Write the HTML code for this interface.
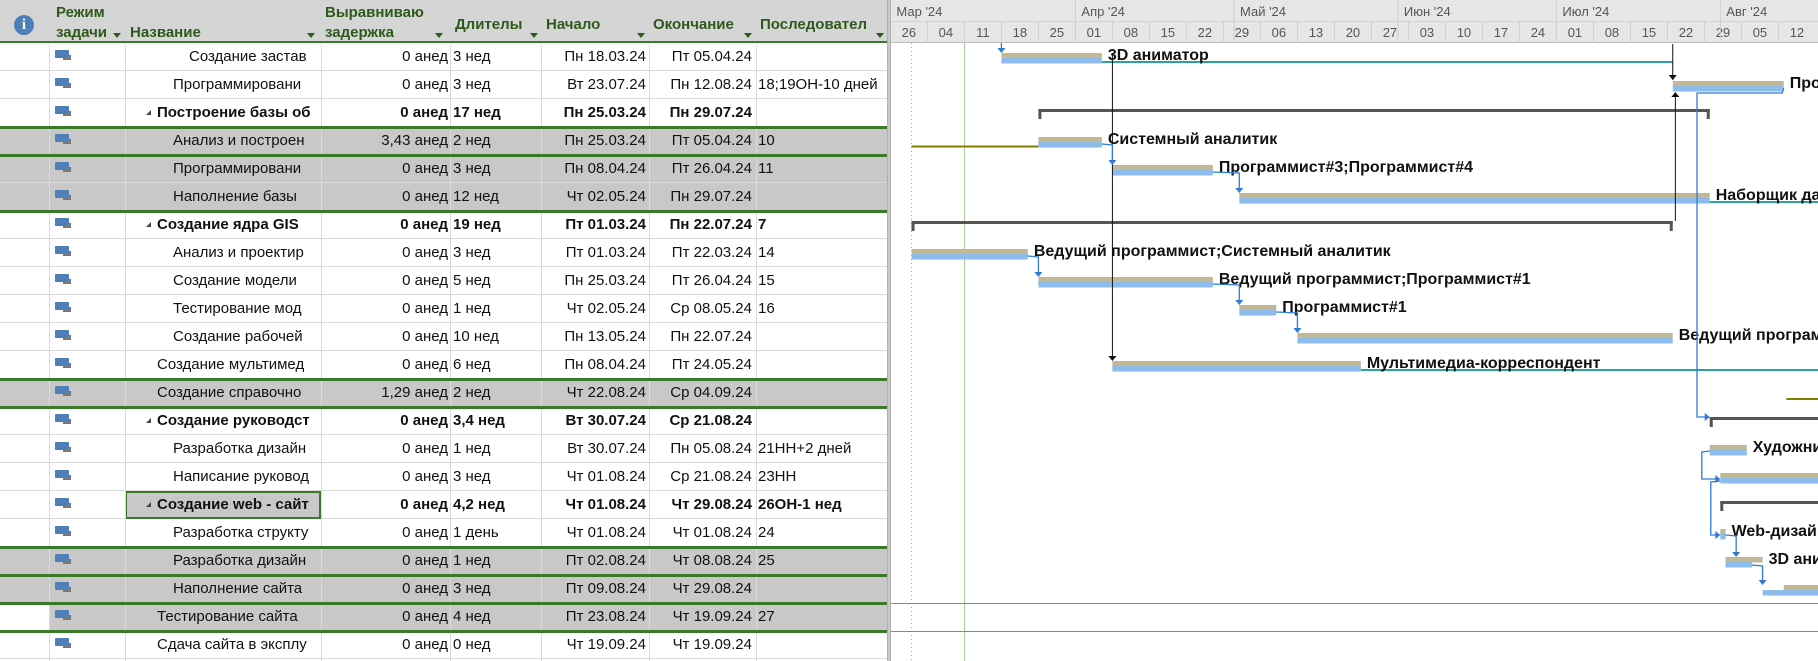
<!DOCTYPE html>
<html><head><meta charset="utf-8">
<style>
*{margin:0;padding:0;box-sizing:border-box}
body{width:1818px;height:661px;overflow:hidden;background:#fff;position:relative;font-family:"Liberation Sans","DejaVu Sans",sans-serif}
.a{position:absolute;white-space:nowrap}
#tbl{position:absolute;left:0;top:0;width:887px;height:661px;overflow:hidden}
.hd{position:absolute;left:0;top:0;width:887px;height:43px;background:#d5d5d5;border-bottom:2px solid #3b7a2b}
.ht{position:absolute;color:#2d5a1a;font-weight:bold;font-size:15px;white-space:nowrap}
.tri{position:absolute;width:0;height:0;border-left:4px solid transparent;border-right:4px solid transparent;border-top:5px solid #2d5a1a}
.row{position:absolute;left:0;width:887px;height:28px;border-bottom:1px solid #dadada;font-size:15px;color:#111}
.c{position:absolute;top:5px;white-space:nowrap;overflow:hidden}
.vl{position:absolute;top:0;width:1px;height:661px;background:#dadada}
.ico{position:absolute;left:55px;top:7px;width:14px;height:8px;background:#4f7fb8;border-radius:1px}
.ico2{position:absolute;left:63px;top:12px;width:8px;height:5px;border-bottom:2px solid #777;border-right:2px solid #777}
.gl{position:absolute;left:0;width:887px;height:3px;background:#3b7a2b}
</style></head><body>
<div id="tbl"></div>
<div class="a" style="left:887px;top:0;width:4px;height:661px;background:#c9c9c9;border-left:1px solid #b0b0b0;border-right:1px solid #b0b0b0"></div>
<svg id="g" class="a" style="left:891px;top:0" width="927" height="661"></svg>
<script>
const T=document.getElementById('tbl');
let h='<div class="hd"></div>';
h+='<div class="a" style="left:14px;top:15px;width:20px;height:20px;border-radius:50%;background:#4d7fb9;color:#fff;font-weight:bold;font-size:15px;text-align:center;line-height:20px;font-family:Liberation Serif,serif">i</div>';
const H=[[56,4,'Режим'],[56,24,'задачи'],[130,24,'Название'],[325,4,'Выравниваю'],[325,24,'задержка'],[455,16,'Длителы'],[546,16,'Начало'],[653,16,'Окончание'],[760,16,'Последовател']];
H.forEach(x=>h+=`<div class="ht" style="left:${x[0]}px;top:${x[1]}px;${x[2]=='Последовател'?'width:118px;overflow:hidden':''}${x[2]=='Выравниваю'?'width:118px;overflow:hidden':''}">${x[2]}</div>`);
[[113,33],[307,33],[435,33],[530,33],[637,33],[744,33],[876,33]].forEach(p=>h+=`<div class="tri" style="left:${p[0]}px;top:${p[1]}px"></div>`);
const R=[
[189,0,'Создание застав','0 анед','3 нед','Пн 18.03.24','Пт 05.04.24','',0],
[173,0,'Программировани','0 анед','3 нед','Вт 23.07.24','Пн 12.08.24','18;19ОН-10 дней',0],
[157,1,'Построение базы об','0 анед','17 нед','Пн 25.03.24','Пн 29.07.24','',0],
[173,0,'Анализ и построен','3,43 анед','2 нед','Пн 25.03.24','Пт 05.04.24','10',1],
[173,0,'Программировани','0 анед','3 нед','Пн 08.04.24','Пт 26.04.24','11',1],
[173,0,'Наполнение базы','0 анед','12 нед','Чт 02.05.24','Пн 29.07.24','',1],
[157,1,'Создание ядра GIS','0 анед','19 нед','Пт 01.03.24','Пн 22.07.24','7',0],
[173,0,'Анализ и проектир','0 анед','3 нед','Пт 01.03.24','Пт 22.03.24','14',0],
[173,0,'Создание модели','0 анед','5 нед','Пн 25.03.24','Пт 26.04.24','15',0],
[173,0,'Тестирование мод','0 анед','1 нед','Чт 02.05.24','Ср 08.05.24','16',0],
[173,0,'Создание рабочей','0 анед','10 нед','Пн 13.05.24','Пн 22.07.24','',0],
[157,0,'Создание мультимед','0 анед','6 нед','Пн 08.04.24','Пт 24.05.24','',0],
[157,0,'Создание справочно','1,29 анед','2 нед','Чт 22.08.24','Ср 04.09.24','',1],
[157,1,'Создание руководст','0 анед','3,4 нед','Вт 30.07.24','Ср 21.08.24','',0],
[173,0,'Разработка дизайн','0 анед','1 нед','Вт 30.07.24','Пн 05.08.24','21НН+2 дней',0],
[173,0,'Написание руковод','0 анед','3 нед','Чт 01.08.24','Ср 21.08.24','23НН',0],
[157,1,'Создание web - сайт','0 анед','4,2 нед','Чт 01.08.24','Чт 29.08.24','26ОН-1 нед',0],
[173,0,'Разработка структу','0 анед','1 день','Чт 01.08.24','Чт 01.08.24','24',0],
[173,0,'Разработка дизайн','0 анед','1 нед','Пт 02.08.24','Чт 08.08.24','25',1],
[173,0,'Наполнение сайта','0 анед','3 нед','Пт 09.08.24','Чт 29.08.24','',1],
[157,0,'Тестирование сайта','0 анед','4 нед','Пт 23.08.24','Чт 19.09.24','27',2],
[157,0,'Сдача сайта в эксплу','0 анед','0 нед','Чт 19.09.24','Чт 19.09.24','',0]];
R.forEach((r,i)=>{const t=43+i*28;const b=r[1]?'font-weight:bold;':'';
 let bg=r[8]==1?'background:#c8c8c8':(r[8]==2?'background:linear-gradient(to right,#fff 49px,#c8c8c8 49px)':'');
 h+=`<div class="row" style="top:${t}px;${bg}">`;
 if(i==16)h+=`<div class="a" style="left:125px;top:0;width:196px;height:28px;background:#c8c8c8;border:2px solid #3b7a2b"></div>`;
 h+=`<div class="ico"></div><div class="ico2"></div>`;
 if(r[1])h+=`<div class="a" style="left:146px;top:11px;width:0;height:0;border-left:5px solid transparent;border-bottom:5px solid #444"></div>`;
 h+=`<div class="c" style="${b}left:${r[0]}px;width:${321-r[0]-2}px">${r[2]}</div>`;
 h+=`<div class="c" style="${b}left:322px;width:126px;text-align:right">${r[3]}</div>`;
 h+=`<div class="c" style="${b}left:453px;width:86px">${r[4]}</div>`;
 h+=`<div class="c" style="${b}left:542px;width:104px;text-align:right">${r[5]}</div>`;
 h+=`<div class="c" style="${b}left:650px;width:102px;text-align:right">${r[6]}</div>`;
 h+=`<div class="c" style="${b}left:758px;width:128px">${r[7]}</div></div>`;});
[49,125,321,450,541,649,756].forEach(x=>h+=`<div class="vl" style="left:${x}px;top:45px;height:616px"></div>`);
[127,155,211,379,407,547,575,603,631].forEach(y=>h+=`<div class="gl" style="top:${y-1}px"></div>`);
T.innerHTML=h;

const O=891,X=d=>890.4+d*5.286-O, RT=r=>43+(r-1)*28;
let s='<rect x="0" y="0" width="927" height="43" fill="#e6e6e6"/><line x1="0" y1="42.5" x2="927" y2="42.5" stroke="#bdbdbd"/><line x1="0" y1="21.5" x2="927" y2="21.5" stroke="#d2d2d2"/>';
const wk=['26','04','11','18','25','01','08','15','22','29','06','13','20','27','03','10','17','24','01','08','15','22','29','05','12'];
wk.forEach((w,i)=>{const x=X(i*7);s+=`<line x1="${x}" y1="22" x2="${x}" y2="43" stroke="#cfcfcf"/><text x="${x+18.5}" y="37" font-size="13" fill="#555" text-anchor="middle">${w}</text>`;});
[['Мар \'24',0],['Апр \'24',35],['Май \'24',65],['Июн \'24',96],['Июл \'24',126],['Авг \'24',157]].forEach(m=>{const x=X(m[1]);s+=`<line x1="${x}" y1="0" x2="${x}" y2="43" stroke="#cfcfcf"/><text x="${x+6}" y="16" font-size="13" fill="#555">${m[0]}</text>`;});
s+=`<line x1="${X(4)}" y1="43" x2="${X(4)}" y2="661" stroke="#999" stroke-dasharray="1,3"/>`;
s+=`<line x1="${X(14)}" y1="43" x2="${X(14)}" y2="661" stroke="#9fcf8f"/>`;
s+=`<line x1="0" y1="603.5" x2="927" y2="603.5" stroke="#888"/><line x1="0" y1="631.5" x2="927" y2="631.5" stroke="#888"/>`;
s+=`<line x1="${X(40)}" y1="${RT(1)+19}" x2="${X(148)}" y2="${RT(1)+19}" stroke="#2aa0a0" stroke-width="2"/>`;
s+=`<line x1="${X(89)}" y1="${RT(12)+19}" x2="927" y2="${RT(12)+19}" stroke="#2aa0a0" stroke-width="2"/>`;
s+=`<line x1="${X(155)}" y1="${RT(6)+19}" x2="927" y2="${RT(6)+19}" stroke="#2aa0a0" stroke-width="2"/>`;
s+=`<line x1="${X(4)}" y1="${RT(4)+19.5}" x2="${X(28)}" y2="${RT(4)+19.5}" stroke="#7f7f00" stroke-width="2"/>`;
s+=`<line x1="${X(169.5)}" y1="${RT(13)+20}" x2="927" y2="${RT(13)+20}" stroke="#7f7f00" stroke-width="2"/>`;
[[3,28,155],[7,4,148],[14,155,200],[17,157,200]].forEach(b=>{const y=RT(b[0])+10,x1=X(b[1]),x2=X(b[2]);
 s+=`<rect x="${x1}" y="${y}" width="${x2-x1}" height="3" fill="#555"/><rect x="${x1}" y="${y}" width="3" height="10" fill="#555"/><rect x="${x2-3}" y="${y}" width="3" height="10" fill="#555"/>`;});
const B=[[1,21,40,'3D аниматор'],[2,148,169,'Программист'],[4,28,40,'Системный аналитик'],[5,42,61,'Программист#3;Программист#4'],[6,66,155,'Наборщик данных'],[8,4,26,'Ведущий программист;Системный аналитик'],[9,28,61,'Ведущий программист;Программист#1'],[10,66,73,'Программист#1'],[11,77,148,'Ведущий программист'],[12,42,89,'Мультимедиа-корреспондент'],[15,155,162,'Художник'],[16,157,200,''],[18,157,158,'Web-дизайнер'],[19,158,163,'3D аниматор',165]];
B.forEach(b=>{const t=RT(b[0]),x1=X(b[1]),x2=X(b[2]);const te=b[4]?X(b[4]):x2;
 s+=`<rect x="${x1}" y="${t+10}" width="${te-x1}" height="5.5" fill="#c2b896"/><rect x="${x1}" y="${t+15}" width="${x2-x1}" height="5.5" fill="#8dbbea"/>`;
 if(b[3])s+=`<text x="${te+6}" y="${t+17}" font-size="16" font-weight="bold" fill="#111">${b[3]}</text>`;});
s+=`<rect x="${X(169)}" y="${RT(20)+10}" width="200" height="5.5" fill="#c2b896"/><rect x="${X(165)}" y="${RT(20)+15}" width="200" height="5.5" fill="#8dbbea"/>`;
s+=`<line x1="${X(42)}" y1="53" x2="${X(42)}" y2="${RT(12)+9}" stroke="#111"/><path d="M${X(42)-4},${RT(12)+5} h8 l-4,5z" fill="#111"/>`;
s+=`<line x1="${X(148)}" y1="44" x2="${X(148)}" y2="${RT(2)+9}" stroke="#111"/><path d="M${X(148)-4},${RT(2)+4} h8 l-4,5z" fill="#111"/>`;
s+=`<line x1="${X(148.5)}" y1="${RT(2)+22}" x2="${X(148.5)}" y2="${RT(7)+10}" stroke="#111"/><path d="M${X(148.5)-4},${RT(2)+26} h8 l-4,-5z" fill="#111"/>`;
const bl='#2e7bd1';
function L(p,ax,ay,dir){s+=`<polyline points="${p}" fill="none" stroke="${bl}" stroke-width="1.3"/>`;
 if(dir=='d')s+=`<path d="M${ax-4},${ay-5} h8 l-4,5z" fill="${bl}"/>`;else s+=`<path d="M${ax-5},${ay-4} v8 l5,-4z" fill="${bl}"/>`;}
L(`${X(21)},43 ${X(21)},${RT(1)+9}`,X(21),RT(1)+10,'d');
L(`${X(40)},${RT(4)+17} ${X(42)},${RT(4)+18} ${X(42)},${RT(5)+9}`,X(42),RT(5)+10,'d');
L(`${X(61)},${RT(5)+17} ${X(66)},${RT(5)+18} ${X(66)},${RT(6)+9}`,X(66),RT(6)+10,'d');
L(`${X(26)},${RT(8)+17} ${X(28)},${RT(8)+18} ${X(28)},${RT(9)+9}`,X(28),RT(9)+10,'d');
L(`${X(61)},${RT(9)+17} ${X(66)},${RT(9)+18} ${X(66)},${RT(10)+9}`,X(66),RT(10)+10,'d');
L(`${X(73)},${RT(10)+17} ${X(77)},${RT(10)+18} ${X(77)},${RT(11)+9}`,X(77),RT(11)+10,'d');
L(`${X(169)},${RT(2)+17} ${X(168.7)},${RT(2)+22} ${X(152.6)},${RT(2)+22} ${X(152.6)},${RT(14)+10} ${X(154.5)},${RT(14)+10}`,X(155),RT(14)+10,'r');
L(`${X(155)},${RT(15)+16} ${X(153.5)},${RT(15)+17} ${X(153.5)},${RT(16)+16} ${X(156.5)},${RT(16)+16}`,X(157),RT(16)+16,'r');
L(`${X(157)},${RT(16)+18} ${X(155.2)},${RT(16)+19} ${X(155.2)},${RT(18)+16} ${X(156.5)},${RT(18)+16}`,X(157),RT(18)+16,'r');
L(`${X(158)},${RT(18)+16} ${X(160)},${RT(18)+17} ${X(160)},${RT(19)+9}`,X(160),RT(19)+10,'d');
L(`${X(163)},${RT(19)+18} ${X(165)},${RT(19)+19} ${X(165)},${RT(20)+9}`,X(165),RT(20)+10,'d');
document.getElementById('g').innerHTML=s;
</script>
</body></html>
